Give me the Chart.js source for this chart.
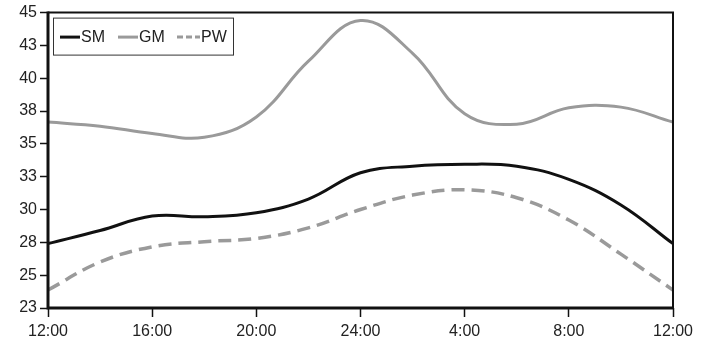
<!DOCTYPE html>
<html>
<head>
<meta charset="utf-8">
<script src="https://cdn.jsdelivr.net/npm/chart.js@4/dist/chart.umd.min.js"></script>
<style>
  html, body { margin: 0; padding: 0; background: #fff; }
  #wrap { width: 710px; height: 347px; }
</style>
</head>
<body>
<div id="wrap"><canvas id="chart" width="710" height="347"></canvas></div>
<script>
// hours since 12:00, sampled every 2 hours
const hours = [0, 2, 4, 6, 8, 10, 12, 14, 16, 18, 20, 22, 24];
const xTickLabels = ['12:00', '16:00', '20:00', '24:00', '4:00', '8:00', '12:00'];
const yTickValues = [22.5, 25, 27.5, 30, 32.5, 35, 37.5, 40, 42.5, 45];
const yTickLabels = ['23', '25', '28', '30', '33', '35', '38', '40', '43', '45'];

const smValues = [27.4, 28.4, 29.5, 29.45, 29.75, 30.8, 32.8, 33.3, 33.45, 33.3, 32.3, 30.35, 27.4];
const gmValues = [36.66, 36.35, 35.8, 35.5, 37.05, 41.3, 44.4, 41.9, 37.3, 36.5, 37.75, 37.8, 36.66];
const pwValues = [23.87, 26.0, 27.16, 27.55, 27.8, 28.6, 30.0, 31.1, 31.5, 30.9, 29.2, 26.6, 23.87];

const seriesNames = ['SM', 'GM', 'PW'];

const toPoints = vals => vals.map((v, i) => ({ x: hours[i], y: v }));

// frame around the plot + legend box in the top-left corner
const framePlugin = {
  id: 'frame',
  afterDatasetsDraw(chart) {
    const { ctx, chartArea: a } = chart;
    ctx.save();
    ctx.strokeStyle = '#111';
    ctx.lineWidth = 2;
    ctx.beginPath();
    ctx.moveTo(a.left, a.top);
    ctx.lineTo(a.right, a.top);
    ctx.lineTo(a.right, a.bottom);
    ctx.stroke();
    ctx.lineWidth = 3;
    ctx.beginPath();
    ctx.moveTo(a.left, a.top - 1);
    ctx.lineTo(a.left, a.bottom);
    ctx.lineTo(a.right + 1, a.bottom);
    ctx.stroke();

    // legend
    const bx = a.left + 5, by = a.top + 5, bw = 180, bh = 37;
    ctx.fillStyle = '#fff';
    ctx.fillRect(bx, by, bw, bh);
    ctx.strokeStyle = '#333';
    ctx.lineWidth = 1;
    ctx.strokeRect(bx + 0.5, by + 0.5, bw, bh);
    ctx.font = '16px "Liberation Sans", Arial, sans-serif';
    ctx.textBaseline = 'middle';
    ctx.fillStyle = '#222';
    const cy = by + bh / 2 + 1;
    const starts = [bx + 7, bx + 65, bx + 124];
    chart.data.datasets.forEach((ds, i) => {
      const x0 = starts[i];
      const len = i === 2 ? 23 : 20;
      ctx.save();
      ctx.strokeStyle = ds.borderColor;
      ctx.lineWidth = 3;
      ctx.setLineDash(i === 2 ? [6, 3] : []);
      ctx.beginPath();
      ctx.moveTo(x0, cy);
      ctx.lineTo(x0 + len, cy);
      ctx.stroke();
      ctx.restore();
      ctx.fillText(ds.label, x0 + len + 1, cy);
    });
    ctx.restore();
  }
};

const font = { family: '"Liberation Sans", Arial, sans-serif', size: 16 };

new Chart(document.getElementById('chart'), {
  type: 'line',
  data: {
    datasets: [
      { label: seriesNames[0], data: toPoints(smValues), borderColor: '#111', borderWidth: 3 },
      { label: seriesNames[1], data: toPoints(gmValues), borderColor: '#9a9a9a', borderWidth: 3 },
      { label: seriesNames[2], data: toPoints(pwValues), borderColor: '#9a9a9a', borderWidth: 3.5, borderDash: [13, 7] }
    ]
  },
  options: {
    responsive: false,
    animation: false,
    devicePixelRatio: 1,
    layout: { padding: { top: 12, right: 37, left: 0, bottom: 0 } },
    elements: {
      point: { radius: 0 },
      line: { tension: 0.4, fill: false }
    },
    plugins: { legend: { display: false }, tooltip: { enabled: false } },
    scales: {
      x: {
        type: 'linear',
        min: 0,
        max: 24,
        afterFit: s => { s.height = 39; },
        afterBuildTicks: s => { s.ticks = hours.filter(h => h % 4 === 0).map(h => ({ value: h })); },
        ticks: {
          autoSkip: false,
          maxRotation: 0,
          padding: 5,
          color: '#222',
          font: font,
          callback: (v, i) => xTickLabels[i]
        },
        grid: { drawOnChartArea: false, drawTicks: true, tickLength: 9, tickColor: '#111', tickWidth: 1.5 },
        border: { display: false }
      },
      y: {
        min: 22.5,
        max: 45,
        afterFit: s => { s.width = 48; },
        afterBuildTicks: s => { s.ticks = yTickValues.map(v => ({ value: v })); },
        ticks: {
          padding: 3,
          color: '#222',
          font: font,
          callback: (v, i) => yTickLabels[i]
        },
        grid: { drawOnChartArea: false, drawTicks: true, tickLength: 8, tickColor: '#111', tickWidth: 1.5 },
        border: { display: false }
      }
    }
  },
  plugins: [framePlugin]
});
</script>
</body>
</html>
